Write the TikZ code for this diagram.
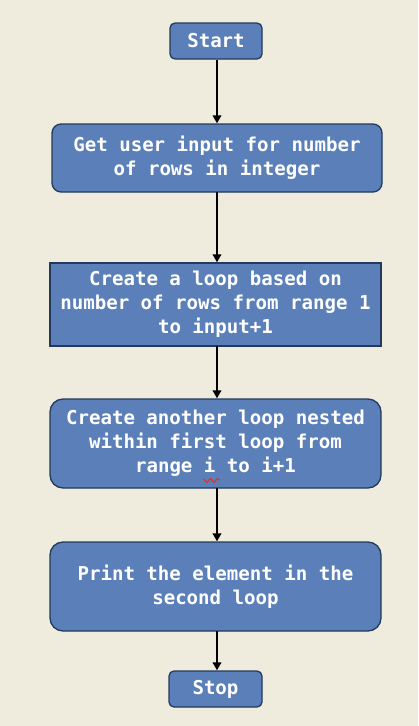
\documentclass[tikz,border=0pt]{standalone}
\usepackage{fontspec}
\setmonofont{DejaVu Sans Mono}
\usetikzlibrary{arrows.meta}
\definecolor{bg}{HTML}{EFECDD}
\definecolor{boxfill}{HTML}{5A7FB9}
\definecolor{boxline}{HTML}{223A5E}
\definecolor{squig}{HTML}{E0302A}
\tikzset{
  flowbox/.style={draw=boxline, line width=1.3pt, fill=boxfill, text=white,
    font=\ttfamily\bfseries\fontsize{19.1}{24}\selectfont, align=center, inner sep=0pt},
  flowarrow/.style={draw=black, line width=2.3pt, -{Triangle[length=8pt,width=8.5pt]}}
}
\begin{document}
\begin{tikzpicture}[x=1pt,y=-1pt]
\fill[bg] (0,0) rectangle (418,726);
\useasboundingbox (0,0) rectangle (418,726);
\node[flowbox, rounded corners=5pt, minimum width=92pt, minimum height=36pt] (start) at (216,41) {Start};
\node[flowbox, rounded corners=9pt, minimum width=330pt, minimum height=68pt] (input) at (217,158) {Get user input for number\\of rows in integer};
\node[flowbox, minimum width=331pt, minimum height=83pt] (loop1) at (215.5,304.5) {Create a loop based on\\number of rows from range 1\\to input+1};
\node[flowbox, rounded corners=13pt, minimum width=331pt, minimum height=89pt] (loop2) at (215.5,443.5) {Create another loop nested\\within first loop from\\range i to i+1};
\node[flowbox, rounded corners=13pt, minimum width=331pt, minimum height=89pt] (print) at (215.5,586.5) {Print the element in the\\second loop};
\node[flowbox, rounded corners=5pt, minimum width=93pt, minimum height=36pt] (stop) at (215.5,689) {Stop};
\coordinate (s1) at (217,59.5);
\coordinate (s2) at (217,192);
\coordinate (s3) at (217,346);
\coordinate (s4) at (217,488);
\coordinate (s5) at (217,631);
\draw[flowarrow] (s1) -- (s1 |- input.north);
\draw[flowarrow] (s2) -- (s2 |- loop1.north);
\draw[flowarrow] (s3) -- (s3 |- loop2.north);
\draw[flowarrow] (s4) -- (s4 |- print.north);
\draw[flowarrow] (s5) -- (s5 |- stop.north);
\draw[squig, line width=1.1pt] (203.5,479) -- (207,482.5) -- (210.5,478.5) -- (214,482.5) -- (217.5,478.5) -- (219.5,480);
\end{tikzpicture}
\end{document}
